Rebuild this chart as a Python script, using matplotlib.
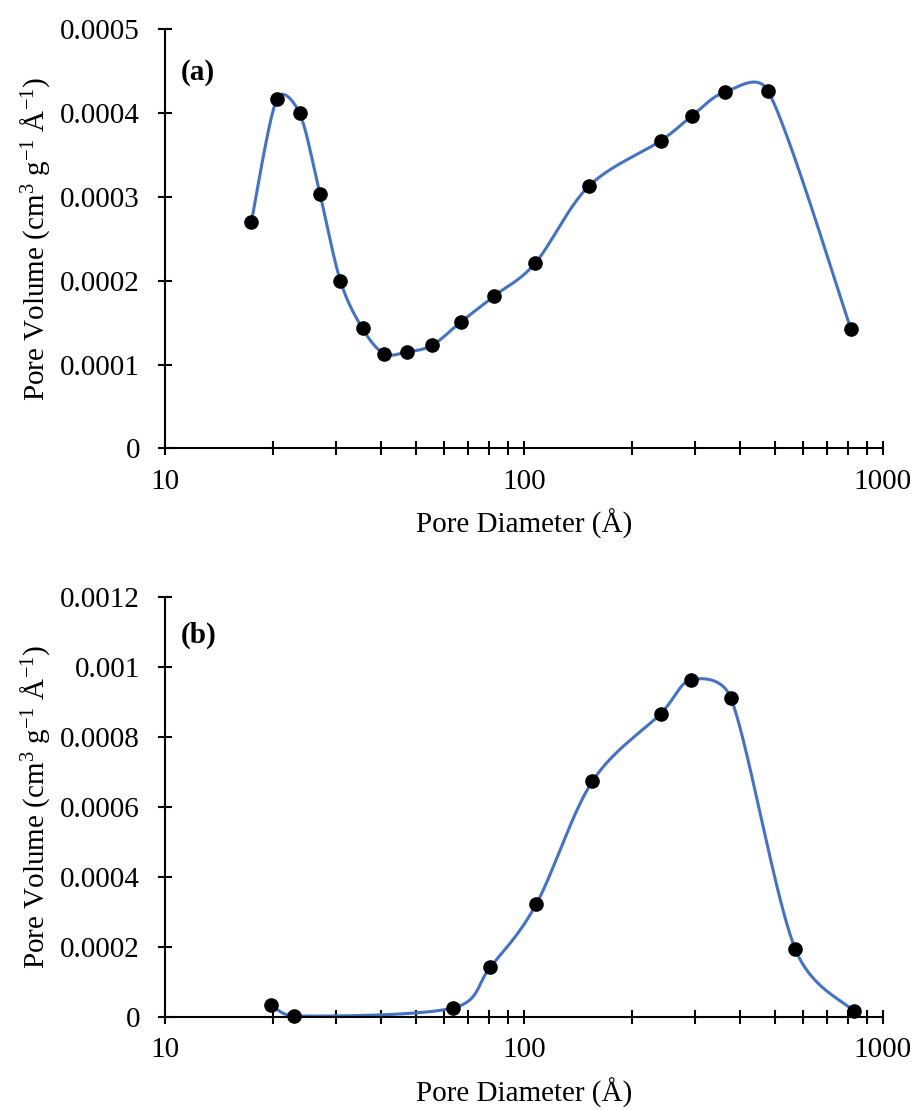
import matplotlib.pyplot as plt
import numpy as np
from matplotlib.ticker import FuncFormatter, LogLocator, NullFormatter

plt.rcParams['font.family'] = ['Liberation Serif', 'DejaVu Serif']
plt.rcParams['mathtext.fontset'] = 'custom'
plt.rcParams['mathtext.rm'] = 'Liberation Serif'
plt.rcParams['mathtext.it'] = 'Liberation Serif:italic'

# sample (a)
diam_a = [17.4, 20.5, 23.7, 27.0, 30.8, 35.5, 40.8, 47.2, 55.5, 66.8, 82.7,
          107.5, 151.7, 240.3, 294.3, 362.3, 479.3, 814.7]
vol_a = [0.000270, 0.000417, 0.000400, 0.000304, 0.000200, 0.000143, 0.000113,
         0.000115, 0.000123, 0.000151, 0.000182, 0.000221, 0.000313, 0.000367,
         0.000397, 0.000425, 0.000426, 0.000142]

# sample (b)
diam_b = [19.8, 22.9, 63.5, 80.6, 108.2, 155.0, 240.3, 292.4, 377.3, 568.8, 831.8]
vol_b = [0.000033, 0.000002, 0.000025, 0.000142, 0.000322, 0.000673, 0.000867,
         0.000964, 0.000911, 0.000195, 0.000015]

yticks_a = [0, 0.0001, 0.0002, 0.0003, 0.0004, 0.0005]
yticks_b = [0, 0.0002, 0.0004, 0.0006, 0.0008, 0.001, 0.0012]
panel_tags = ['(a)', '(b)']

BLUE = '#4472C4'
FS = 21


def smooth_curve(ax, xs, ys, n=40):
    # spreadsheet-style smoothed line: cubic bezier with catmull-rom handles,
    # handles capped at half the segment length (measured on screen)
    xs = np.asarray(xs, dtype=float)
    ys = np.asarray(ys, dtype=float)
    fig = ax.figure
    fig.canvas.draw()
    trans = ax.transData
    P = trans.transform(np.column_stack([xs, ys]))
    P = np.vstack([P[0], P, P[-1]])
    t = np.linspace(0, 1, n)[:, None]
    out = []
    f = 1 / 6
    for i in range(1, len(P) - 2):
        p0, p1, p2, p3 = P[i - 1], P[i], P[i + 1], P[i + 2]
        d12 = np.hypot(*(p2 - p1))
        d02 = np.hypot(*(p2 - p0))
        d13 = np.hypot(*(p3 - p1))
        f0 = f if d02 * f < d12 / 2 else (d12 / d02 / 2 if d02 > 0 else 0)
        f1 = f if d13 * f < d12 / 2 else (d12 / d13 / 2 if d13 > 0 else 0)
        c1 = p1 + (p2 - p0) * f0
        c2 = p2 - (p3 - p1) * f1
        seg = ((1 - t) ** 3) * p1 + 3 * ((1 - t) ** 2) * t * c1 + \
            3 * (1 - t) * t ** 2 * c2 + t ** 3 * p2
        out.append(seg)
    out = trans.inverted().transform(np.vstack(out))
    return out[:, 0], out[:, 1]


def style_axes(ax, yticks):
    ax.set_xscale('log')
    ax.set_xlim(10, 1000)
    ax.set_ylim(yticks[0], yticks[-1])
    ax.set_yticks(yticks)
    ax.yaxis.set_major_formatter(FuncFormatter(lambda v, p: '0' if v == 0 else '{:g}'.format(v)))
    ax.xaxis.set_major_locator(LogLocator(base=10))
    ax.xaxis.set_minor_locator(LogLocator(base=10, subs=np.arange(2, 10)))
    ax.xaxis.set_minor_formatter(NullFormatter())
    ax.xaxis.set_major_formatter(FuncFormatter(lambda v, p: '{:g}'.format(v)))
    for s in ['top', 'right']:
        ax.spines[s].set_visible(False)
    for s in ['left', 'bottom']:
        ax.spines[s].set_linewidth(1.5)
    ax.tick_params(which='both', direction='inout', length=10, width=1.5,
                   labelsize=FS)
    ax.tick_params(axis='y', pad=13)
    ax.tick_params(axis='x', pad=10)
    ax.set_xlabel('Pore Diameter (Å)', fontsize=FS, labelpad=10)
    ax.set_ylabel('Pore Volume (cm$^{3}$ g$^{-1}$ Å$^{-1}$)', fontsize=FS, labelpad=6)


fig = plt.figure(figsize=(9.15, 11.1), dpi=100)
ax1 = fig.add_axes([0.1803, 0.5961, 0.7847, 0.3775])
ax2 = fig.add_axes([0.1803, 0.0841, 0.7847, 0.3778])

for ax, d, v, yt, tag, ty in [(ax1, diam_a, vol_a, yticks_a, panel_tags[0], 0.896),
                              (ax2, diam_b, vol_b, yticks_b, panel_tags[1], 0.910)]:
    style_axes(ax, yt)
    sx, sy = smooth_curve(ax, d, v)
    ax.plot(sx, sy, color=BLUE, lw=2.2, zorder=2, clip_on=False)
    ax.plot(d, v, 'o', color='black', ms=9.5, zorder=3, clip_on=False)
    ax.text(0.022, ty, tag, transform=ax.transAxes, fontsize=FS,
            fontweight='bold', va='center', ha='left')

fig.savefig('out.png', dpi=100)
